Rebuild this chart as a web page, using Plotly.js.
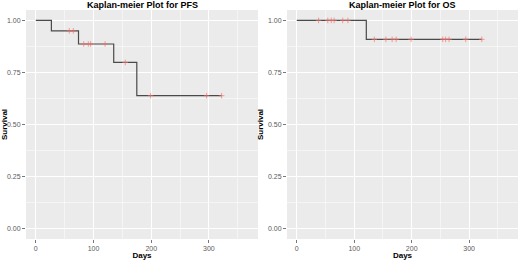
<!DOCTYPE html>
<html>
<head>
<meta charset="utf-8">
<script src="https://cdn.plot.ly/plotly-3.0.1.min.js"></script>
<style>html,body{margin:0;padding:0;background:#fff;}#chart{width:520px;height:260px;}</style>
</head>
<body>
<div id="chart"></div>
<script>
// PFS curve (step points: event times and survival after each)
const pfsTime = [0, 27, 74, 135, 175, 322];
const pfsSurv = [1, 0.95, 0.8867, 0.798, 0.6384, 0.6384];
// PFS censored observations
const pfsCensorTime = [58, 65, 83, 91, 95, 120, 155, 199, 296, 322];
const pfsCensorSurv = [0.95, 0.95, 0.8867, 0.8867, 0.8867, 0.8867, 0.798, 0.6384, 0.6384, 0.6384];

// OS curve
const osTime = [0, 121, 322];
const osSurv = [1, 0.9091, 0.9091];
// OS censored observations
const osCensorTime = [38, 54, 60, 65, 80, 89, 135, 155, 166, 173, 199, 254, 259, 265, 294, 322];
const osCensorSurv = [1, 1, 1, 1, 1, 1, 0.9091, 0.9091, 0.9091, 0.9091, 0.9091, 0.9091, 0.9091, 0.9091, 0.9091, 0.9091];

const titles = ["Kaplan-meier Plot for PFS", "Kaplan-meier Plot for OS"];
const xTicks = [0, 100, 200, 300];
const yTicks = [0, 0.25, 0.5, 0.75, 1];
const yTickText = ["0.00", "0.25", "0.50", "0.75", "1.00"];

const lineStyle = {color: '#4A4A4A', width: 1.2, shape: 'hv'};
const censorMarker = {symbol: 'cross-thin', size: 4, line: {color: 'rgba(240,110,105,0.65)', width: 1}, color: 'rgba(240,110,105,0.65)'};

const traces = [
  {x: pfsTime, y: pfsSurv, mode: 'lines', line: lineStyle, xaxis: 'x', yaxis: 'y', hoverinfo: 'skip'},
  {x: pfsCensorTime, y: pfsCensorSurv, mode: 'markers', marker: censorMarker, xaxis: 'x', yaxis: 'y'},
  {x: osTime, y: osSurv, mode: 'lines', line: lineStyle, xaxis: 'x2', yaxis: 'y2', hoverinfo: 'skip'},
  {x: osCensorTime, y: osCensorSurv, mode: 'markers', marker: censorMarker, xaxis: 'x2', yaxis: 'y2'}
];

const fnt = {family: 'Liberation Sans, Arial, sans-serif'};
function xa(domain, anchor) {
  return {
    domain: domain, anchor: anchor, range: [-17, 385],
    tickvals: xTicks, ticks: 'outside', ticklen: 3, tickwidth: 0.8, tickcolor: '#555555',
    tickfont: {family: fnt.family, size: 7, color: '#5A5A5A'},
    showgrid: true, gridcolor: '#FFFFFF', gridwidth: 1,
    minor: {dtick: 50, tick0: 50, showgrid: true, gridcolor: '#FFFFFF', gridwidth: 0.5, ticks: ''},
    zeroline: false, showline: false, fixedrange: true,
    title: {text: '<b>Days</b>', font: {family: fnt.family, size: 8, color: '#000'}, standoff: 2}
  };
}
function ya(anchor) {
  return {
    domain: [0, 1], anchor: anchor, range: [-0.05, 1.05],
    tickvals: yTicks, ticktext: yTickText, ticks: 'outside', ticklen: 3, tickwidth: 0.8, tickcolor: '#555555',
    tickfont: {family: fnt.family, size: 7, color: '#5A5A5A'},
    showgrid: true, gridcolor: '#FFFFFF', gridwidth: 1,
    minor: {dtick: 0.125, tick0: 0.125, showgrid: true, gridcolor: '#FFFFFF', gridwidth: 0.5, ticks: ''},
    zeroline: false, showline: false, fixedrange: true,
    title: {text: '<b>Survival</b>', font: {family: fnt.family, size: 8, color: '#000'}, standoff: 3}
  };
}

const layout = {
  width: 520, height: 260,
  margin: {l: 26, r: 2, t: 10, b: 21},
  paper_bgcolor: '#FFFFFF', plot_bgcolor: '#EBEBEB',
  showlegend: false,
  xaxis: xa([0, 0.4715], 'y'),
  yaxis: ya('x'),
  xaxis2: xa([0.5305, 1], 'y2'),
  yaxis2: ya('x2'),
  annotations: [
    {text: '<b>' + titles[0] + '</b>', xref: 'paper', yref: 'paper', x: 0.2358, y: 1, yshift: 5,
     xanchor: 'center', yanchor: 'middle', showarrow: false, font: {family: fnt.family, size: 9, color: '#000'}},
    {text: '<b>' + titles[1] + '</b>', xref: 'paper', yref: 'paper', x: 0.7652, y: 1, yshift: 5,
     xanchor: 'center', yanchor: 'middle', showarrow: false, font: {family: fnt.family, size: 9, color: '#000'}}
  ]
};

Plotly.newPlot('chart', traces, layout, {displayModeBar: false, staticPlot: true});
</script>
</body>
</html>
